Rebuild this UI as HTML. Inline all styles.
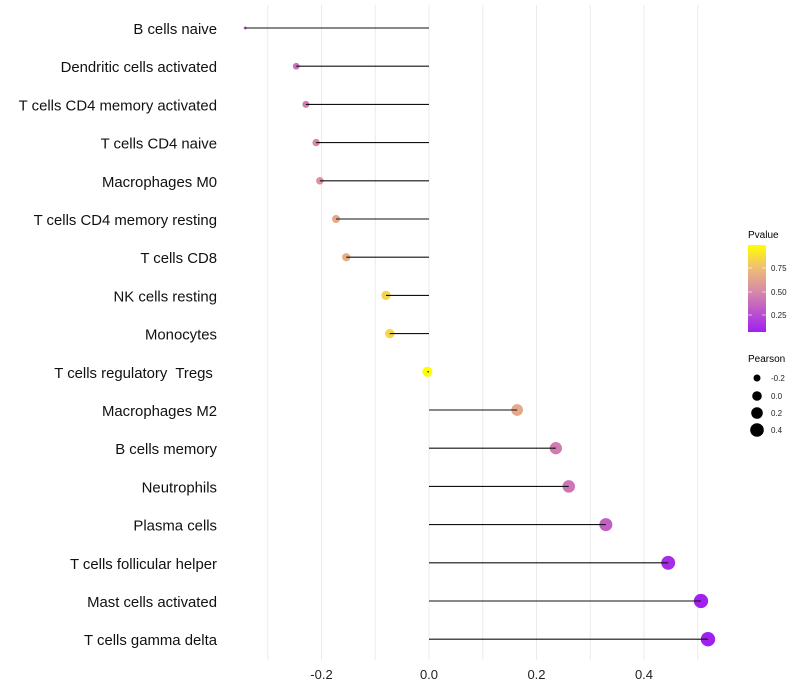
<!DOCTYPE html>
<html><head><meta charset="utf-8"><style>
body{margin:0;background:#fff;}
svg{display:block;font-family:"Liberation Sans",sans-serif;}
</style></head><body>
<svg id="chart" width="800" height="700">
<defs><linearGradient id="pg" x1="0" y1="1" x2="0" y2="0">
<stop offset="0" stop-color="#a020f0"/><stop offset="0.47" stop-color="#d88aa8"/><stop offset="0.75" stop-color="#f0c070"/><stop offset="1" stop-color="#ffff00"/></linearGradient></defs>
<g id="grid"></g><g id="points"></g><g id="stems"></g><g id="labels"></g><g id="xticks"></g>
<g>
<text x="748" y="238" font-size="10">Pvalue</text>
<rect x="748" y="245" width="18" height="87" fill="url(#pg)"/>
<g stroke="#fff" stroke-width="0.6"><line x1="748" y1="268" x2="752" y2="268"/><line x1="762" y1="268" x2="766" y2="268"/><line x1="748" y1="292" x2="752" y2="292"/><line x1="762" y1="292" x2="766" y2="292"/><line x1="748" y1="315" x2="752" y2="315"/><line x1="762" y1="315" x2="766" y2="315"/></g>
<g font-size="8" fill="#222"><text x="771" y="271">0.75</text><text x="771" y="295">0.50</text><text x="771" y="318">0.25</text></g>
</g>
<g>
<text x="748" y="362" font-size="10">Pearson</text>
<circle cx="757" cy="378" r="3.5"/><circle cx="757" cy="396" r="4.8"/><circle cx="757" cy="413" r="5.8"/><circle cx="757" cy="430" r="6.8"/>
<g font-size="8" fill="#222"><text x="771" y="381">-0.2</text><text x="771" y="399">0.0</text><text x="771" y="416">0.2</text><text x="771" y="433">0.4</text></g>
</g>
</svg>
<script>
const cells=["B cells naive","Dendritic cells activated","T cells CD4 memory activated","T cells CD4 naive","Macrophages M0","T cells CD4 memory resting","T cells CD8","NK cells resting","Monocytes","T cells regulatory  Tregs ","Macrophages M2","B cells memory","Neutrophils","Plasma cells","T cells follicular helper","Mast cells activated","T cells gamma delta"];
const pearson=[-0.342,-0.247,-0.229,-0.21,-0.203,-0.173,-0.154,-0.08,-0.073,-0.003,0.164,0.236,0.26,0.329,0.445,0.506,0.519];
const pvalue=[0.28,0.4,0.45,0.5,0.55,0.65,0.68,0.84,0.85,1.0,0.65,0.45,0.42,0.33,0.12,0.08,0.07];
const xTicks=[-0.2,0,0.2,0.4];
const xGrid=[-0.3,-0.2,-0.1,0,0.1,0.2,0.3,0.4,0.5];
const NS="http://www.w3.org/2000/svg";
const X=v=>429+v*537.5;
const Y=i=>28+i*38.2;
function mk(t,a,p){const e=document.createElementNS(NS,t);for(const k in a)e.setAttribute(k,a[k]);p.appendChild(e);return e;}
function hx(c){return [1,3,5].map(i=>parseInt(c.substr(i,2),16));}
const stops=[[0,"#a020f0"],[0.47,"#d88aa8"],[0.75,"#f0c070"],[1,"#ffff00"]];
function col(p){const q=Math.max(0,Math.min(1,(p-0.07)/(1-0.07)));for(let i=1;i<stops.length;i++){if(q<=stops[i][0]){const f=(q-stops[i-1][0])/(stops[i][0]-stops[i-1][0]);const a=hx(stops[i-1][1]),b=hx(stops[i][1]);return "rgb("+a.map((v,j)=>Math.round(v+(b[j]-v)*f)).join(",")+")";}}return stops[3][1];}
const pmin=Math.min(...pearson),pmax=Math.max(...pearson);
const rad=v=>1.2*(1.2+4.8*Math.sqrt((v-pmin)/(pmax-pmin)));
const g=document.getElementById('grid'),pts=document.getElementById('points'),st=document.getElementById('stems'),l=document.getElementById('labels'),xt=document.getElementById('xticks');
xGrid.forEach(v=>{const e=mk('line',{x1:X(v),x2:X(v),y1:5,y2:660,stroke:'#ebebeb','stroke-width':1},g);

});
xTicks.forEach(v=>{const e=mk('text',{x:X(v),y:679,'font-size':13,'text-anchor':'middle',fill:'#222'},xt);e.textContent=v.toFixed(1);

});
cells.forEach((c,i)=>{const y=Y(i);
const t=mk('text',{x:217,y:y+6,'font-size':14.9,'text-anchor':'end',fill:'#111'},l);t.textContent=c;t.style.whiteSpace='pre';


const cc=mk('circle',{cx:X(pearson[i]),cy:y,r:rad(pearson[i]),fill:col(pvalue[i])},pts);


const ln=mk('line',{x1:X(0),x2:X(pearson[i]),y1:y,y2:y,stroke:'#111','stroke-width':1.1},st);

});
</script>
</body></html>
